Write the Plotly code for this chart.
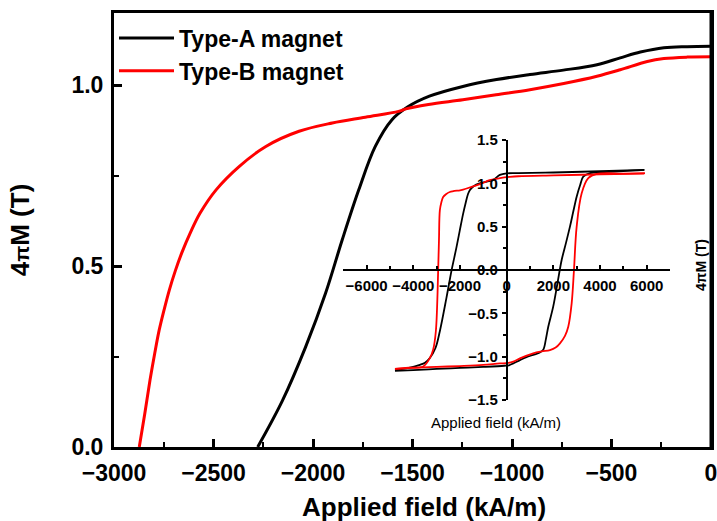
import plotly.graph_objects as go

# ---------------- main plot data (second quadrant, demagnetisation curves) ----------------
a_field = [0, -120, -237, -355, -456, -573, -742, -910, -1078, -1247, -1415, -1525,
           -1603, -1687, -1770, -1853, -1937, -2037, -2153, -2278]
a_mag = [1.108, 1.107, 1.104, 1.092, 1.076, 1.057, 1.042, 1.030, 1.016, 0.997, 0.970, 0.940,
         0.905, 0.831, 0.711, 0.573, 0.425, 0.277, 0.129, 0.0]

b_field = [0, -120, -237, -320, -456, -573, -740, -910, -1080, -1247, -1420, -1533, -1570,
           -1737, -1903, -2070, -2237, -2370, -2487, -2568, -2615, -2660, -2692, -2722, -2748,
           -2773, -2795, -2819, -2846, -2873]
b_mag = [1.079, 1.078, 1.074, 1.066, 1.043, 1.025, 1.005, 0.988, 0.974, 0.960, 0.947, 0.935, 0.928,
         0.912, 0.896, 0.873, 0.831, 0.776, 0.711, 0.646, 0.594, 0.536, 0.487, 0.434, 0.380,
         0.323, 0.260, 0.185, 0.090, 0.0]

# ---------------- inset data (full hysteresis loops) ----------------
a_up_field = [5900, 4000, 2000, 500, 0, -290, -570, -850, -1140, -1400, -1573, -1652, -1760,
              -1866, -2010, -2151, -2365, -2578, -2863, -3050, -3291, -3500, -3718, -4200, -4786]
a_up_mag = [1.155, 1.140, 1.125, 1.118, 1.115, 1.097, 1.040, 1.020, 1.000, 0.970, 0.924, 0.880, 0.770,
            0.648, 0.455, 0.261, -0.010, -0.319, -0.706, -0.900, -1.016, -1.070, -1.094, -1.130, -1.152]
a_lo_field = [-4786, -4000, -3000, -2000, -1000, -100, 100, 283, 570, 850, 1140, 1400, 1569, 1680,
              1783, 1997, 2180, 2357, 2540, 2713, 2860, 3000, 3150, 3283, 3570, 4200, 5000, 5900]
a_lo_mag = [-1.165, -1.155, -1.142, -1.130, -1.118, -1.105, -1.100, -1.078, -1.040, -1.005, -0.980, -0.955,
            -0.920, -0.800, -0.655, -0.420, -0.150, 0.115, 0.310, 0.500, 0.680, 0.846, 0.980, 1.077,
            1.117, 1.130, 1.140, 1.155]

b_up_field = [5900, 4000, 2000, 500, 128, -287, -726, -1144, -1500, -1866, -2000, -2436, -2600,
              -2721, -2800, -2863, -2900, -2934, -3034, -3150, -3291, -3575, -4200, -4786]
b_up_mag = [1.113, 1.103, 1.092, 1.082, 1.074, 1.060, 1.036, 0.990, 0.960, 0.927, 0.920, 0.900, 0.875,
            0.842, 0.780, 0.687, 0.350, 0.0, -0.707, -0.920, -1.016, -1.113, -1.128, -1.140]
b_lo_field = [-4786, -4000, -3000, -2000, -1000, -287, 0, 283, 570, 1140, 1500, 1856, 2100, 2285,
              2500, 2640, 2786, 2885, 3000, 3215, 3498, 3858, 5000, 5928]
b_lo_mag = [-1.140, -1.130, -1.118, -1.108, -1.095, -1.078, -1.075, -1.058, -1.020, -0.962, -0.940,
            -0.924, -0.895, -0.846, -0.760, -0.655, -0.385, 0.0, 0.500, 0.886, 1.059, 1.108, 1.113, 1.117]

series_names = ["Type-A magnet", "Type-B magnet"]
colors = ["#000000", "#ff0000"]

FONT = "Liberation Sans, Arial, sans-serif"
W, H = 717, 521
ML, MR, MT, MB = 114, 6, 13, 74
PW, PH = W - ML - MR, H - MT - MB


def px_x(px):
    return (px - ML) / PW


def px_y(py):
    return (H - MB - py) / PH


fig = go.Figure()

# main curves
fig.add_trace(go.Scatter(x=a_field, y=a_mag, mode="lines", name=series_names[0],
                         line=dict(color=colors[0], width=3), line_shape="spline",
                         xaxis="x", yaxis="y"))
fig.add_trace(go.Scatter(x=b_field, y=b_mag, mode="lines", name=series_names[1],
                         line=dict(color=colors[1], width=3), line_shape="spline",
                         xaxis="x", yaxis="y"))

# inset loops
for fx, my, c in [(a_up_field, a_up_mag, colors[0]), (a_lo_field, a_lo_mag, colors[0]),
                  (b_up_field, b_up_mag, colors[1]), (b_lo_field, b_lo_mag, colors[1])]:
    fig.add_trace(go.Scatter(x=fx, y=my, mode="lines", showlegend=False,
                             line=dict(color=c, width=1.8), line_shape="spline",
                             xaxis="x2", yaxis="y2"))

fig.update_layout(
    width=W, height=H,
    margin=dict(l=ML, r=MR, t=MT, b=MB),
    paper_bgcolor="white",
    plot_bgcolor="rgba(0,0,0,0)",
    font=dict(family=FONT, color="black"),
    showlegend=True,
    legend=dict(x=0.0, y=0.992, xanchor="left", yanchor="top",
                bgcolor="rgba(0,0,0,0)", borderwidth=0,
                font=dict(family=FONT, size=23, weight="bold", color="black"),
                itemwidth=55, tracegroupgap=0),
    xaxis=dict(
        domain=[0, 1], range=[-3000, 0], tick0=0, dtick=500,
        ticks="inside", ticklen=8, tickwidth=2.5, tickcolor="black",
        minor=dict(dtick=250, ticks="inside", ticklen=5, tickwidth=2, tickcolor="black"),
        showline=True, linewidth=3, linecolor="black", mirror=True,
        showgrid=False, zeroline=False, automargin=False,
        tickfont=dict(family=FONT, size=23, weight="bold"),
        ticklabelstandoff=3, ticklabeloverflow="allow",
    ),
    yaxis=dict(
        domain=[0, 1], range=[0, 1.2], tick0=0, dtick=0.5, tickformat=".1f",
        ticks="inside", ticklen=8, tickwidth=2.5, tickcolor="black",
        minor=dict(dtick=0.25, ticks="inside", ticklen=5, tickwidth=2, tickcolor="black"),
        showline=True, linewidth=3, linecolor="black", mirror=True,
        showgrid=False, zeroline=False, automargin=False,
        tickfont=dict(family=FONT, size=23, weight="bold"),
        ticklabelstandoff=3, ticklabeloverflow="allow",
        title=dict(text="4<span style='font-size:21px'>π</span>M (T)", standoff=35,
                   font=dict(family=FONT, size=26, weight="bold")),
    ),
    xaxis2=dict(
        domain=[px_x(343.3), px_x(670)], anchor="free", position=px_y(270),
        range=[-7000, 7000], tick0=0, dtick=2000,
        ticks="inside", ticklen=4, tickwidth=1.5, tickcolor="black",
        minor=dict(dtick=1000, ticks="inside", ticklen=3, tickwidth=1.5, tickcolor="black"),
        showline=True, linewidth=1.8, linecolor="black",
        showgrid=False, zeroline=False, automargin=False,
        tickfont=dict(family=FONT, size=15, weight="bold"),
        ticklabelstandoff=2,
    ),
    yaxis2=dict(
        domain=[px_y(400), px_y(140)], anchor="free", position=px_x(506.7),
        range=[-1.5, 1.5], tick0=0, dtick=0.5, tickformat=".1f",
        ticks="outside", ticklen=4, tickwidth=1.5, tickcolor="black",
        minor=dict(dtick=0.25, ticks="outside", ticklen=3, tickwidth=1.5, tickcolor="black"),
        showline=True, linewidth=1.8, linecolor="black",
        showgrid=False, zeroline=False, automargin=False,
        tickfont=dict(family=FONT, size=15, weight="bold"),
        ticklabelstandoff=1,
    ),
    shapes=[
        # right edge of the main axes box, drawn in paper space
        dict(type="line", xref="paper", yref="paper", x0=1, x1=1, y0=0, y1=1,
             line=dict(color="black", width=3), layer="above"),
    ],
    annotations=[
        dict(text="Applied field (kA/m)", xref="paper", yref="paper",
             x=px_x(424), y=px_y(507), xanchor="center", yanchor="middle",
             showarrow=False, font=dict(family=FONT, size=26, weight="bold", color="black")),
        dict(text="Applied field (kA/m)", xref="paper", yref="paper",
             x=px_x(496), y=px_y(422), xanchor="center", yanchor="middle",
             showarrow=False, font=dict(family=FONT, size=15, color="black")),
        dict(text="4πM (T)", xref="paper", yref="paper", textangle=-90,
             x=px_x(701), y=px_y(265), xanchor="center", yanchor="middle",
             showarrow=False, font=dict(family=FONT, size=14, weight="bold", color="black")),
    ],
)

fig.write_html(
    "out.html",
    config={"displayModeBar": False},
    post_script="document.documentElement.style.overflow='hidden';"
                "document.body.style.margin='0';document.body.style.padding='0';",
)
